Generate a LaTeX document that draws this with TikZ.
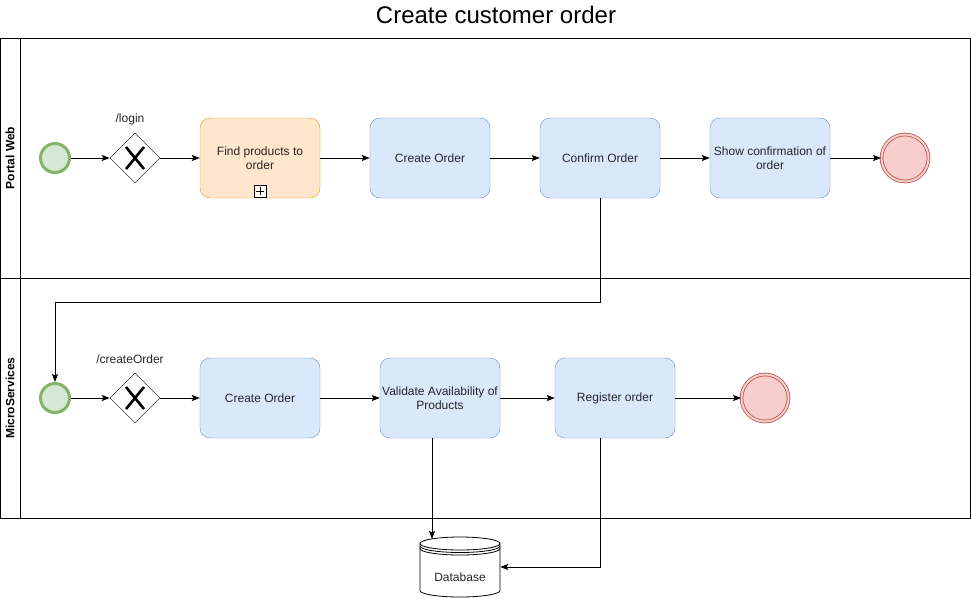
\documentclass[tikz,border=0pt]{standalone}
\usepackage{fontspec}
\setmainfont{Liberation Sans}
\usetikzlibrary{arrows.meta,shapes.geometric}
\definecolor{taskfill}{HTML}{DAE8FC}
\definecolor{taskline}{HTML}{6C8EBF}
\definecolor{subfill}{HTML}{FFE6CC}
\definecolor{subline}{HTML}{D79B00}
\definecolor{startfill}{HTML}{D5E8D4}
\definecolor{startline}{HTML}{82B366}
\definecolor{endfill}{HTML}{F8CECC}
\definecolor{endline}{HTML}{B85450}

\begin{document}
\begin{tikzpicture}[
  x=1pt,y=-1pt,
  font=\fontsize{12}{14}\selectfont,
  task/.style={draw=taskline,fill=taskfill,rounded corners=10pt,minimum width=120pt,minimum height=80pt,align=center,text=black!85,inner xsep=0pt},
  subtask/.style={task,draw=subline,fill=subfill},
  start/.style={circle,draw=startline,fill=startfill,line width=3pt,minimum size=29pt,inner sep=0pt},
  finish/.style={circle,draw=endline,fill=endfill,line width=0.8pt,double=endfill,double distance=2pt,minimum size=47pt,inner sep=0pt},
  xgate/.style={diamond,draw,fill=white,minimum size=50pt,inner sep=0pt,
    path picture={\draw[line width=2.6pt] ([shift={(-9pt,-11pt)}]path picture bounding box.center) -- ++(18pt,22pt)
      ([shift={(-9pt,11pt)}]path picture bounding box.center) -- ++(18pt,-22pt);}},
  plusbox/.style={draw,fill=white,minimum size=12pt,inner sep=0pt,
    path picture={\draw ([xshift=-4pt]path picture bounding box.center) -- ++(8pt,0pt)
      ([yshift=-4pt]path picture bounding box.center) -- ++(0pt,8pt);}},
  lane/.style={rotate=90,font=\bfseries\fontsize{12}{14}\selectfont},
  gatelabel/.style={text=black!85},
  dbstore/.style={minimum width=80pt,minimum height=60pt,inner sep=0pt},
  arr/.style={-{Stealth[length=8pt,width=6pt,inset=1.5pt]},line width=1pt}
]
\useasboundingbox (0,0) rectangle (971,598);

\node[font=\fontsize{24}{28}\selectfont] (title) at (496,15) {Create customer order};

% pool and lanes
\draw[line width=1pt] (0,38) rectangle (970,518);
\draw[line width=1pt] (20,38) -- (20,518);
\draw[line width=1pt] (0,278) -- (970,278);
\node[lane] (laneweb) at (10,158) {Portal Web};
\node[lane] (lanems) at (10,398) {MicroServices};

% Portal Web
\node[start] (s1) at (55,158) {};
\node[xgate] (g1) at (135,158) {};
\node[gatelabel] (loginlbl) at (130,119) {/login};
\node[subtask] (find) at (260,158) {Find products to\\order};
\node[plusbox,anchor=south] (findplus) at ([yshift=1pt]find.south) {};
\node[task] (co1) at (430,158) {Create Order};
\node[task] (conf) at (600,158) {Confirm Order};
\node[task] (show) at (770,158) {Show confirmation of\\order};
\node[finish] (e1) at (905,158) {};

\draw[arr] (s1) -- (g1);
\draw[arr] (g1) -- (find);
\draw[arr] (find) -- (co1);
\draw[arr] (co1) -- (conf);
\draw[arr] (conf) -- (show);
\draw[arr] (show) -- (e1);

% MicroServices
\node[start] (s2) at (55,398) {};
\node[xgate] (g2) at (135,398) {};
\node[gatelabel] (createlbl) at (130,359) {/createOrder};
\node[task] (co2) at (260,398) {Create Order};
\node[task] (val) at (440,398) {Validate Availability of\\Products};
\node[task] (reg) at (615,398) {Register order};
\node[finish] (e2) at (765,398) {};

\draw[arr] (s2) -- (g2);
\draw[arr] (g2) -- (co2);
\draw[arr] (co2) -- (val);
\draw[arr] (val) -- (reg);
\draw[arr] (reg) -- (e2);

\coordinate (turn) at (600,302);
\draw[arr] (conf.south) -- (turn) -| (s2.north);

% database
\node[dbstore] (db) at (460,567) {};
\draw[line width=0.8pt,fill=white] (420,543.5) -- (420,590.5)
  arc[start angle=180,end angle=360,x radius=40pt,y radius=6.5pt] -- (500,543.5);
\draw[line width=0.8pt,fill=white] (460,543.5) ellipse[x radius=40pt,y radius=6.5pt];
\draw[line width=0.8pt] (420,546) arc[start angle=180,end angle=360,x radius=40pt,y radius=6.5pt];
\draw[line width=0.8pt] (420,548.5) arc[start angle=180,end angle=360,x radius=40pt,y radius=6.5pt];
\node[text=black!85] (dblabel) at (460,577) {Database};

\coordinate (dbtop) at (432,539);
\draw[arr] (val.south -| dbtop) -- (dbtop);
\draw[arr] ([xshift=-15pt]reg.south) |- (db.east);

\end{tikzpicture}
\end{document}
